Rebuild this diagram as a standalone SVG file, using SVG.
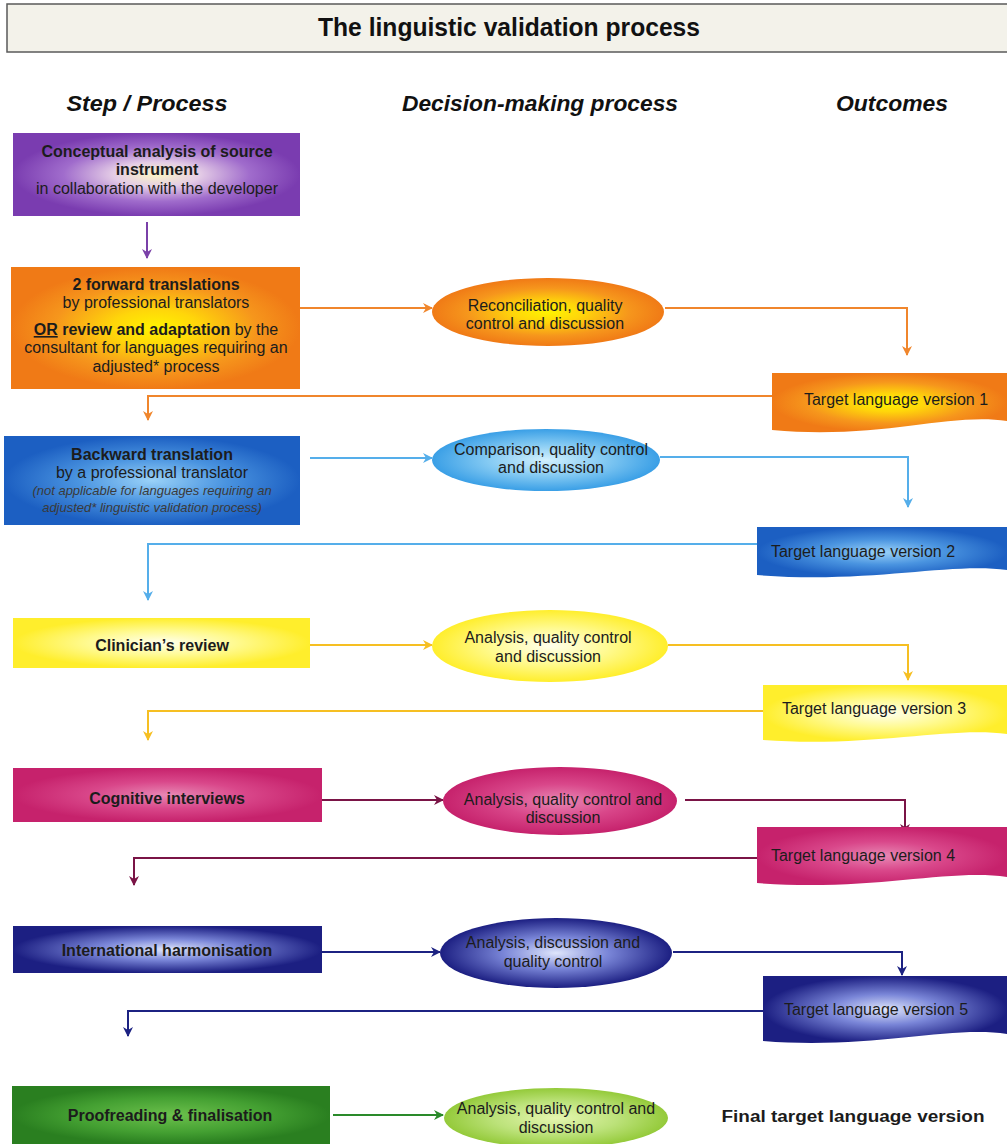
<svg xmlns="http://www.w3.org/2000/svg" width="1007" height="1144" viewBox="0 0 1007 1144">
<style>
.t{font-family:"Liberation Sans",Arial,sans-serif;font-size:16px;fill:#1c1c1c;text-anchor:middle}
.b{font-weight:bold}
.h{font-family:"Liberation Sans",Arial,sans-serif;font-weight:bold;font-style:italic;font-size:22px;fill:#111;text-anchor:middle}
.it{font-style:italic;font-size:13px;fill:#3a3a3a}
.c{fill:none;stroke-width:2}
</style>
<defs>
<radialGradient id="gPurple"><stop offset="0" stop-color="#fbf6c6"/><stop offset="0.3" stop-color="#e4cce6"/><stop offset="0.65" stop-color="#a06ccc"/><stop offset="1" stop-color="#7a3cb0"/></radialGradient>
<radialGradient id="gOrange"><stop offset="0" stop-color="#fff300"/><stop offset="0.3" stop-color="#ffd60a"/><stop offset="0.7" stop-color="#f6961c"/><stop offset="1" stop-color="#f07a16"/></radialGradient>
<radialGradient id="gBlue"><stop offset="0" stop-color="#9ad2f8"/><stop offset="0.5" stop-color="#4a94e0"/><stop offset="1" stop-color="#1c5fc2"/></radialGradient>
<radialGradient id="gLBlue"><stop offset="0" stop-color="#d2f0fd"/><stop offset="0.5" stop-color="#86cbf3"/><stop offset="1" stop-color="#3a9fe6"/></radialGradient>
<radialGradient id="gYellow"><stop offset="0" stop-color="#ffffee"/><stop offset="0.5" stop-color="#fffa90"/><stop offset="1" stop-color="#ffee2c"/></radialGradient>
<radialGradient id="gMagenta"><stop offset="0" stop-color="#e888b4"/><stop offset="0.5" stop-color="#d9478a"/><stop offset="1" stop-color="#c6226c"/></radialGradient>
<radialGradient id="gNavy"><stop offset="0" stop-color="#dfe6fb"/><stop offset="0.45" stop-color="#7a86d8"/><stop offset="1" stop-color="#1c1f82"/></radialGradient>
<radialGradient id="gGreen"><stop offset="0" stop-color="#6cc04c"/><stop offset="0.6" stop-color="#44a032"/><stop offset="1" stop-color="#2a7f20"/></radialGradient>
<radialGradient id="gLGreen"><stop offset="0" stop-color="#e6f6b0"/><stop offset="0.55" stop-color="#bce27a"/><stop offset="1" stop-color="#94ca3a"/></radialGradient>
<marker id="aPurple" viewBox="0 0 10 10" refX="9" refY="5" markerWidth="5" markerHeight="5" orient="auto"><path d="M0,0 L10,5 L0,10 L3,5 Z" fill="#7a40a8"/></marker>
<marker id="aOrange" viewBox="0 0 10 10" refX="9" refY="5" markerWidth="5" markerHeight="5" orient="auto"><path d="M0,0 L10,5 L0,10 L3,5 Z" fill="#f0862c"/></marker>
<marker id="aBlue" viewBox="0 0 10 10" refX="9" refY="5" markerWidth="5" markerHeight="5" orient="auto"><path d="M0,0 L10,5 L0,10 L3,5 Z" fill="#55aeea"/></marker>
<marker id="aYellow" viewBox="0 0 10 10" refX="9" refY="5" markerWidth="5" markerHeight="5" orient="auto"><path d="M0,0 L10,5 L0,10 L3,5 Z" fill="#f6bf22"/></marker>
<marker id="aMagenta" viewBox="0 0 10 10" refX="9" refY="5" markerWidth="5" markerHeight="5" orient="auto"><path d="M0,0 L10,5 L0,10 L3,5 Z" fill="#7a1446"/></marker>
<marker id="aNavy" viewBox="0 0 10 10" refX="9" refY="5" markerWidth="5" markerHeight="5" orient="auto"><path d="M0,0 L10,5 L0,10 L3,5 Z" fill="#1c2282"/></marker>
<marker id="aGreen" viewBox="0 0 10 10" refX="9" refY="5" markerWidth="5" markerHeight="5" orient="auto"><path d="M0,0 L10,5 L0,10 L3,5 Z" fill="#2a8a2a"/></marker>
</defs>
<rect width="1007" height="1144" fill="#ffffff"/>

<g id="title">
<rect x="7" y="4" width="1004" height="48" fill="#f3f2ea" stroke="#5a5a5a" stroke-width="1.5"/>
<text x="509" y="36" class="h" style="font-style:normal;font-size:25px" textLength="382" lengthAdjust="spacingAndGlyphs">The linguistic validation process</text>
</g>

<g id="headers">
<text x="147" y="111" class="h" textLength="161" lengthAdjust="spacingAndGlyphs">Step / Process</text>
<text x="540" y="111" class="h" textLength="276" lengthAdjust="spacingAndGlyphs">Decision-making process</text>
<text x="892" y="111" class="h" textLength="112" lengthAdjust="spacingAndGlyphs">Outcomes</text>
</g>

<g id="connectors">
<path class="c" stroke="#7a40a8" d="M147,222 V258" marker-end="url(#aPurple)"/>
<path class="c" stroke="#f0862c" d="M300,308 H432" marker-end="url(#aOrange)"/>
<path class="c" stroke="#f0862c" d="M665,308 H907 V355" marker-end="url(#aOrange)"/>
<path class="c" stroke="#f0862c" d="M772,396 H148 V420" marker-end="url(#aOrange)"/>
<path class="c" stroke="#55aeea" d="M310,458 H432" marker-end="url(#aBlue)"/>
<path class="c" stroke="#55aeea" d="M660,457 H908 V507" marker-end="url(#aBlue)"/>
<path class="c" stroke="#55aeea" d="M757,544 H148 V600" marker-end="url(#aBlue)"/>
<path class="c" stroke="#f6bf22" d="M310,645 H432" marker-end="url(#aYellow)"/>
<path class="c" stroke="#f6bf22" d="M668,645 H908 V680" marker-end="url(#aYellow)"/>
<path class="c" stroke="#f6bf22" d="M763,711 H148 V740" marker-end="url(#aYellow)"/>
<path class="c" stroke="#7a1446" d="M322,800 H443" marker-end="url(#aMagenta)"/>
<path class="c" stroke="#7a1446" d="M685,800 H905 V833" marker-end="url(#aMagenta)"/>
<path class="c" stroke="#7a1446" d="M757,858 H134 V885" marker-end="url(#aMagenta)"/>
<path class="c" stroke="#1c2282" d="M322,952 H440" marker-end="url(#aNavy)"/>
<path class="c" stroke="#1c2282" d="M673,952 H902 V975" marker-end="url(#aNavy)"/>
<path class="c" stroke="#1c2282" d="M763,1011 H128 V1036" marker-end="url(#aNavy)"/>
<path class="c" stroke="#2a8a2a" d="M333,1115 H443" marker-end="url(#aGreen)"/>
</g>

<g id="conceptual-analysis">
<rect x="13" y="133" width="287" height="83" fill="url(#gPurple)"/>
<text x="157" y="157" class="t b">Conceptual analysis of source</text>
<text x="157" y="175" class="t b">instrument</text>
<text x="157" y="194" class="t">in collaboration with the developer</text>
</g>

<g id="forward-translations">
<rect x="11" y="267" width="289" height="122" fill="url(#gOrange)"/>
<text x="156" y="290" class="t b">2 forward translations</text>
<text x="156" y="308" class="t">by professional translators</text>
<text x="156" y="335" class="t"><tspan class="b" text-decoration="underline">OR</tspan><tspan class="b"> review and adaptation</tspan> by the</text>
<text x="156" y="353" class="t">consultant for languages requiring an</text>
<text x="156" y="372" class="t">adjusted* process</text>
</g>

<g id="reconciliation">
<ellipse cx="548" cy="312" rx="116" ry="34" fill="url(#gOrange)"/>
<text x="545" y="311" class="t">Reconciliation, quality</text>
<text x="545" y="329" class="t">control and discussion</text>
</g>

<g id="target-1">
<path d="M772,373 H1007 V421 C950,412 880,440 772,430 Z" fill="url(#gOrange)"/>
<text x="896" y="405" class="t">Target language version 1</text>
</g>

<g id="backward-translation">
<rect x="4" y="436" width="296" height="89" fill="url(#gBlue)"/>
<text x="152" y="460" class="t b">Backward translation</text>
<text x="152" y="478" class="t">by a professional translator</text>
<text x="152" y="495" class="t it">(not applicable for languages requiring an</text>
<text x="152" y="512" class="t it">adjusted* linguistic validation process)</text>
</g>

<g id="comparison">
<ellipse cx="546" cy="460" rx="114" ry="31" fill="url(#gLBlue)"/>
<text x="551" y="455" class="t">Comparison, quality control</text>
<text x="551" y="473" class="t">and discussion</text>
</g>

<g id="target-2">
<path d="M757,527 H1007 V570 C950,562 870,584 757,575 Z" fill="url(#gBlue)"/>
<text x="863" y="557" class="t">Target language version 2</text>
</g>

<g id="clinicians-review">
<rect x="13" y="618" width="297" height="50" fill="url(#gYellow)"/>
<text x="162" y="651" class="t b">Clinician’s review</text>
</g>

<g id="analysis-1">
<ellipse cx="550" cy="646" rx="118" ry="36" fill="url(#gYellow)"/>
<text x="548" y="643" class="t">Analysis, quality control</text>
<text x="548" y="662" class="t">and discussion</text>
</g>

<g id="target-3">
<path d="M763,685 H1007 V734 C950,726 870,748 763,740 Z" fill="url(#gYellow)"/>
<text x="874" y="714" class="t">Target language version 3</text>
</g>

<g id="cognitive-interviews">
<rect x="13" y="768" width="309" height="54" fill="url(#gMagenta)"/>
<text x="167" y="804" class="t b">Cognitive interviews</text>
</g>

<g id="analysis-2">
<ellipse cx="560" cy="801" rx="117" ry="34" fill="url(#gMagenta)"/>
<text x="563" y="805" class="t">Analysis, quality control and</text>
<text x="563" y="823" class="t">discussion</text>
</g>

<g id="target-4">
<path d="M757,827 H1007 V877 C950,868 870,892 757,883 Z" fill="url(#gMagenta)"/>
<text x="863" y="861" class="t">Target language version 4</text>
</g>

<g id="international-harmonisation">
<rect x="13" y="926" width="309" height="47" fill="url(#gNavy)"/>
<text x="167" y="956" class="t b">International harmonisation</text>
</g>

<g id="analysis-3">
<ellipse cx="556" cy="953" rx="116" ry="35" fill="url(#gNavy)"/>
<text x="553" y="948" class="t">Analysis, discussion and</text>
<text x="553" y="967" class="t">quality control</text>
</g>

<g id="target-5">
<path d="M763,976 H1007 V1034 C950,1025 870,1050 763,1041 Z" fill="url(#gNavy)"/>
<text x="876" y="1015" class="t">Target language version 5</text>
</g>

<g id="proofreading">
<rect x="12" y="1086" width="318" height="58" fill="url(#gGreen)"/>
<text x="170" y="1121" class="t b">Proofreading &amp; finalisation</text>
</g>

<g id="analysis-4">
<ellipse cx="556" cy="1118" rx="112" ry="30" fill="url(#gLGreen)"/>
<text x="556" y="1114" class="t">Analysis, quality control and</text>
<text x="556" y="1133" class="t">discussion</text>
</g>

<g id="final-version">
<text x="853" y="1122" class="t b" textLength="263" lengthAdjust="spacingAndGlyphs">Final target language version</text>
</g>
</svg>
